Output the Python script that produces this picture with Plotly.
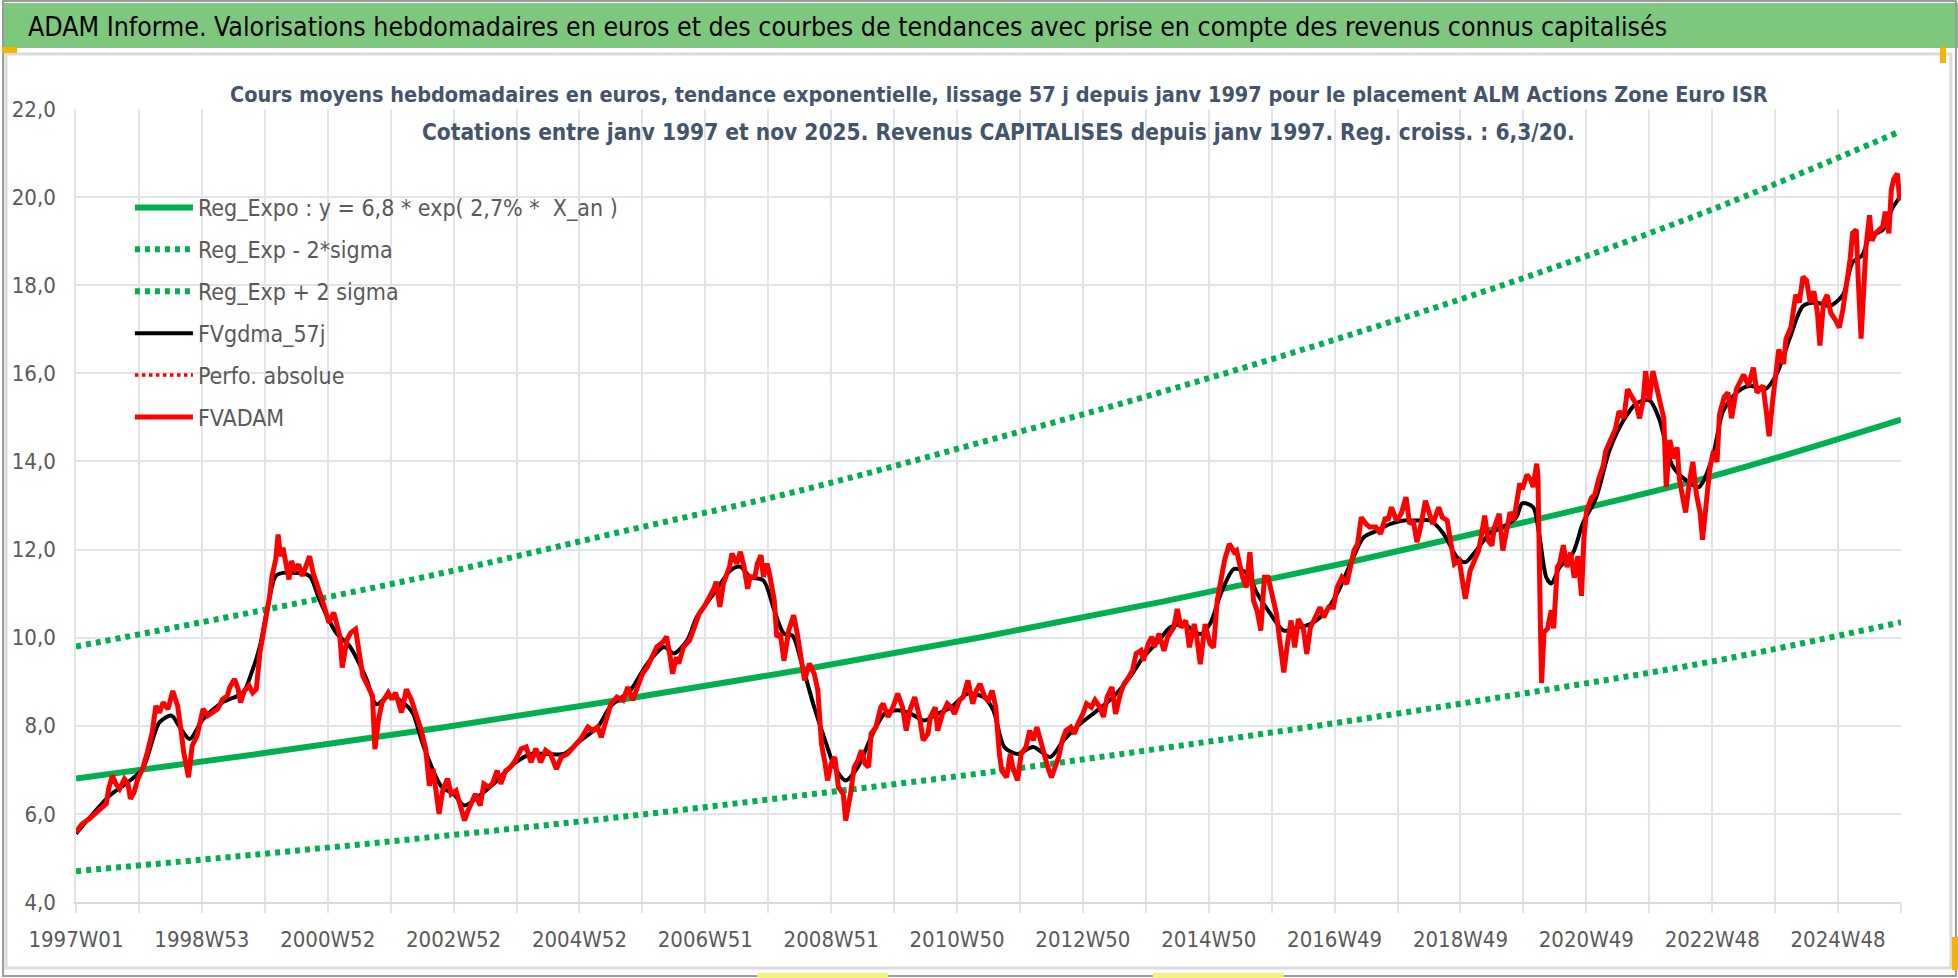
import plotly.graph_objects as go

# ---------------- data ----------------
# x = week index counted from 1997W01 (=0)
tick_weeks = [0, 104, 208, 312, 416, 520, 624, 728, 832, 936, 1040, 1144, 1248, 1352, 1456]
tick_labels = ["1997W01", "1998W53", "2000W52", "2002W52", "2004W52", "2006W51", "2008W51",
               "2010W50", "2012W50", "2014W50", "2016W49", "2018W49", "2020W49", "2022W48", "2024W48"]
y_ticks = [4, 6, 8, 10, 12, 14, 16, 18, 20, 22]
y_tick_labels = ["4,0", "6,0", "8,0", "10,0", "12,0", "14,0", "16,0", "18,0", "20,0", "22,0"]

trend_weeks = [0, 150, 300, 450, 600, 750, 900, 1050, 1200, 1350, 1508]
reg_expo = [6.80, 7.36, 7.95, 8.59, 9.27, 10.02, 10.83, 11.70, 12.64, 13.65, 14.95]
reg_minus = [4.70, 5.08, 5.49, 5.93, 6.42, 6.93, 7.50, 8.10, 8.75, 9.45, 10.35]
reg_plus = [9.80, 10.60, 11.45, 12.40, 13.35, 14.45, 15.60, 16.85, 18.20, 19.70, 21.50]

fvadam_weeks = [
    0, 5, 11, 16, 21, 25, 27, 30, 33, 36, 40, 43, 45, 48, 51, 55, 59, 63, 66, 69, 72, 76, 80, 84, 87, 89,
    93, 96, 100, 105, 109, 113, 117, 121, 125, 127, 131, 134, 136, 139, 143, 146, 149, 152, 156, 160, 162,
    165, 167, 169, 171, 174, 176, 178, 181, 184, 187, 190, 193, 196, 198, 202, 205, 209, 213, 218, 220, 224,
    227, 231, 234, 237, 241, 245, 247, 250, 253, 258, 261, 264, 269, 273, 277, 281, 285, 289, 292, 295, 298,
    300, 303, 307, 310, 314, 318, 321, 324, 327, 330, 334, 337, 341, 344, 348, 351, 355, 359, 363, 368, 372,
    376, 380, 384, 388, 392, 397, 401, 406, 412, 417, 423, 427, 431, 434, 438, 442, 447, 452, 456, 460, 464,
    468, 472, 476, 480, 485, 488, 491, 493, 496, 498, 502, 507, 511, 515, 519, 523, 527, 529, 532, 535, 540,
    542, 546, 549, 552, 555, 557, 561, 563, 566, 568, 571, 573, 577, 579, 582, 585, 589, 593, 596,
    602, 606, 610, 613, 616, 619, 621, 624, 627, 630, 634, 636, 640, 643, 646, 649, 652, 655, 657, 661, 665,
    667, 671, 675, 679, 683, 686, 689, 693, 697, 700, 704, 706, 710, 712, 716, 720, 723, 726, 730, 733, 737,
    741, 744, 747, 751, 754, 757, 760, 763, 765, 769, 772, 774, 778, 781, 785, 788, 791, 794, 797, 800, 803,
    806, 809, 812, 815, 818, 822, 825, 828, 832, 835, 839, 842, 846, 849, 852, 856, 859, 863, 866, 870, 873,
    876, 880, 882, 886, 889, 891, 895, 899, 902, 907, 910, 913, 917, 920, 924, 926, 929, 933, 937, 940, 943,
    946, 949, 953, 957, 959, 964, 967, 970, 973, 976, 979, 982, 985, 989, 992, 995, 998, 1001, 1004, 1007,
    1010, 1014, 1017, 1020, 1024, 1028, 1031, 1035, 1039, 1042, 1046, 1050, 1053, 1056, 1059, 1062, 1066,
    1069, 1074, 1078, 1082, 1084, 1087, 1091, 1095, 1099, 1102, 1105, 1108, 1111, 1115, 1118, 1121, 1126,
    1129, 1133, 1137, 1139, 1143, 1148, 1152, 1155, 1159, 1161, 1164, 1167, 1170, 1172, 1176, 1179, 1182,
    1185, 1188, 1191, 1193, 1195, 1199, 1202, 1204, 1207, 1208, 1210, 1211, 1213, 1216, 1219, 1221, 1224,
    1226, 1229, 1232, 1235, 1238, 1241, 1244, 1246, 1248, 1252, 1255, 1258, 1262, 1264, 1268, 1272, 1275,
    1279, 1282, 1286, 1289, 1292, 1295, 1297, 1300, 1303, 1306, 1309, 1312, 1314, 1317, 1320, 1323, 1325,
    1328, 1330, 1333, 1336, 1339, 1342, 1344, 1347, 1350, 1353, 1356, 1358, 1362, 1365, 1368, 1372, 1375,
    1378, 1382, 1386, 1389, 1394, 1397, 1399, 1402, 1405, 1407, 1411, 1413, 1417, 1421, 1424, 1427, 1430,
    1433, 1436, 1439, 1441, 1444, 1447, 1450, 1454, 1457, 1460, 1462, 1466, 1468, 1471, 1473, 1475, 1477,
    1479, 1482, 1484, 1487, 1490, 1493, 1495, 1498, 1500, 1502, 1505, 1507]
fvadam = [
    5.58, 5.77, 5.89, 6.00, 6.11, 6.23, 6.57, 6.87, 6.68, 6.57, 6.79, 6.68, 6.34, 6.49, 6.79, 7.02, 7.40,
    7.85, 8.45, 8.30, 8.53, 8.38, 8.79, 8.45, 7.85, 7.40, 6.83, 7.55, 7.77, 8.38, 8.23, 8.30, 8.38, 8.60,
    8.68, 8.87, 9.06, 8.83, 8.53, 8.79, 8.91, 8.75, 8.83, 9.66, 10.26, 10.94, 11.40, 11.77, 12.34, 11.85,
    12.04, 11.62, 11.32, 11.74, 11.55, 11.66, 11.40, 11.62, 11.85, 11.47, 11.32, 10.98, 10.72, 10.34, 10.57,
    10.04, 9.32, 9.96, 10.11, 10.19, 9.58, 9.13, 8.91, 8.68, 7.47, 8.15, 8.53, 8.75, 8.60, 8.75, 8.30, 8.83,
    8.60, 8.30, 7.92, 7.47, 6.64, 7.02, 6.50,
    6.00, 6.53, 6.80, 6.45, 6.53, 6.15, 5.85, 6.08, 6.30, 6.45, 6.19, 6.68, 6.61, 6.68, 6.98, 6.68, 6.98,
    7.06, 7.21, 7.48, 7.52, 7.17, 7.48, 7.17, 7.44, 7.36, 7.02, 7.29, 7.36, 7.55, 7.70, 7.97, 7.89, 7.97,
    7.74, 8.12, 8.50, 8.65, 8.58, 8.88, 8.58, 8.88, 9.18, 9.33, 9.56, 9.79, 9.90, 10.02, 9.56, 9.18, 9.56,
    9.41, 9.79, 9.94, 10.24, 10.55, 10.70, 10.89, 11.11, 11.27, 10.70, 11.23, 11.61, 11.91, 11.68, 11.95,
    11.61, 11.11, 11.38, 11.38, 11.68, 11.87, 11.38, 11.68, 11.45, 10.85, 10.02, 10.09, 9.48, 10.17, 10.51,
    10.09,
    9.03, 9.41, 9.18, 8.80, 7.59, 7.14, 6.76, 7.14, 7.29, 6.61, 6.45, 5.85, 6.45, 7.06, 7.21, 7.44, 7.14,
    7.06, 7.82, 7.97, 8.42, 8.50, 8.20, 8.42, 8.73, 8.42, 7.89, 8.35, 8.65, 8.20, 7.67, 7.82, 8.20, 8.42,
    7.89, 8.27, 8.50, 8.42, 8.27, 8.58, 8.65, 9.03, 8.50, 8.80, 8.95, 8.65, 8.58, 8.80, 8.42, 7.36, 6.98,
    6.83, 7.36, 7.06, 6.76, 7.36, 7.52, 7.89, 7.67, 7.97, 7.67, 7.29, 7.06, 6.83, 7.06, 7.29, 7.67, 7.89,
    7.97, 7.82, 8.05, 8.27, 8.50, 8.42, 8.58, 8.42, 8.20, 8.65, 8.88, 8.27, 8.73, 8.95, 9.11, 9.26, 9.64,
    9.71, 9.48, 9.86, 10.02, 9.79, 10.09,
    9.70, 10.01, 10.23, 10.65, 10.23, 10.39, 9.78, 10.31, 10.01, 9.40, 10.31, 9.86, 9.78, 10.84, 11.30,
    11.75, 12.13, 11.94, 11.98, 11.37, 11.14, 11.94, 10.84, 10.61, 10.16, 11.37, 11.37, 10.84, 10.54, 9.86,
    9.21, 9.86, 10.39, 9.78, 10.42, 10.23, 9.63, 10.23, 10.46, 10.69, 10.46, 10.69, 10.69, 11.14, 11.37,
    11.22, 11.60, 11.98, 12.13, 12.73, 12.58, 12.51, 12.51, 12.36, 12.73, 12.66, 12.96, 12.66, 12.81, 13.19,
    12.58, 12.66, 12.17, 12.51, 13.11, 12.81, 12.58, 12.96, 12.73, 12.66, 12.05, 11.67, 11.75, 10.88, 11.52,
    11.75, 11.98, 12.28, 12.77, 12.20, 12.09, 12.51, 12.81, 11.98, 12.43, 12.85, 12.66, 13.11, 13.50,
    13.37, 13.70, 13.58, 13.42, 13.95, 13.66, 10.37, 8.97, 10.12, 10.21, 10.62, 10.21, 11.60, 11.69, 12.10,
    11.60, 11.93, 11.36, 11.85, 10.95, 12.26, 12.84, 13.17, 13.25, 13.58, 13.91, 14.24, 14.49, 14.73, 15.14,
    14.98, 15.64, 15.47, 15.31, 14.98, 15.39, 16.05, 15.39, 16.05, 15.72, 15.31, 14.98, 13.42, 14.49, 14.07,
    14.32, 13.58, 13.09, 12.84, 13.50, 13.99, 13.25, 12.84, 12.22, 13.17, 13.83, 14.24, 13.99, 15.06, 15.47,
    15.56, 14.98, 15.64, 15.80, 15.97, 15.72, 16.13, 15.56, 15.72, 15.06, 14.57, 15.39, 16.13, 16.54, 16.21,
    16.79, 17.04, 17.78, 17.61, 18.19, 18.11, 17.61, 17.86, 17.37, 16.63, 17.61, 17.78, 17.37, 17.20, 17.04,
    17.45, 17.78, 18.60, 19.18, 19.26, 17.94, 16.79, 17.78, 18.85, 19.59, 19.01, 19.18, 19.26, 19.34, 19.67,
    19.18, 20.16, 20.41, 20.53, 19.92]

gdma_weeks = [
    0, 28, 41, 55, 69, 79, 85, 94, 105, 121, 138, 145, 152, 158, 165, 171, 182, 193, 201, 215, 226, 240,
    248, 259, 270, 278, 287, 302, 312, 321, 335, 348, 362, 376, 390, 403, 417, 431, 442, 458, 472, 486, 494,
    505, 513, 527, 541, 549, 557, 568, 577, 585, 592, 599, 610, 619, 627, 636, 646, 657, 668, 679, 690, 701,
    712, 723, 737, 750, 758, 767, 778, 791, 805, 816, 830, 844, 857, 871, 882, 895, 904, 915, 929, 937, 946,
    957, 968, 976, 987, 998, 1009, 1020, 1031, 1042, 1053, 1064, 1075, 1086, 1097, 1108, 1119, 1130, 1141,
    1148, 1157, 1168, 1179, 1190, 1195, 1204, 1209, 1215, 1219, 1226, 1237, 1245, 1256, 1267, 1278, 1289,
    1300, 1308, 1319, 1330, 1341, 1352, 1361, 1372, 1383, 1396, 1405, 1416, 1427, 1438, 1449, 1460, 1468,
    1476, 1482, 1493, 1501, 1507]
gdma = [
    5.55, 6.42, 6.68, 7.02, 8.08, 8.23, 8.00, 7.70, 8.15, 8.53, 8.75, 9.20, 9.81, 10.64, 11.40, 11.47,
    11.47, 11.40, 10.87, 10.11, 9.81, 9.06, 8.49, 8.68, 8.53, 8.30, 7.55, 6.62, 6.45, 6.19, 6.45, 6.76,
    7.14, 7.36, 7.36, 7.36, 7.67, 7.97, 8.45, 8.80, 9.41, 9.79, 9.64, 9.94, 10.47, 11.00, 11.53, 11.61,
    11.38, 11.30, 10.62, 10.09, 10.05, 9.48, 8.42, 7.67, 7.06, 6.76, 7.06, 7.74, 8.27, 8.35, 8.27, 8.12,
    8.27, 8.42, 8.73, 8.65, 8.35, 7.52, 7.36, 7.52, 7.29, 7.67, 8.05, 8.35, 8.65, 9.11, 9.56, 9.94, 10.23,
    10.31, 10.08, 10.31, 11.00, 11.56, 11.45, 11.00, 10.54, 10.16, 10.23, 10.31, 10.54, 11.00, 11.67, 12.28,
    12.43, 12.58, 12.66, 12.66, 12.66, 12.36, 11.83, 11.71, 11.98, 12.36, 12.51, 12.73, 13.05, 12.96, 12.35,
    11.36, 11.23, 11.60, 11.93, 12.59, 13.17, 14.24, 14.90, 15.31, 15.39, 14.98, 13.91, 13.58, 13.42, 14.07,
    15.14, 15.56, 15.72, 15.64, 15.97, 16.79, 17.53, 17.61, 17.53, 17.78, 18.52, 18.68, 19.09, 19.26,
    19.75, 20.00]

legend_names = ["Reg_Expo : y = 6,8 * exp( 2,7% *  X_an )", "Reg_Exp - 2*sigma", "Reg_Exp + 2 sigma",
                "FVgdma_57j", "Perfo. absolue", "FVADAM"]

header_text = ("ADAM Informe. Valorisations hebdomadaires en euros et des courbes de tendances "
               "avec prise en compte des revenus connus capitalisés")
title_line1 = ("Cours moyens hebdomadaires en euros, tendance exponentielle, lissage 57 j depuis janv 1997 "
               "pour le placement ALM Actions Zone Euro ISR")
title_line2 = ("Cotations entre janv 1997 et nov 2025. Revenus CAPITALISES depuis janv 1997. "
               "Reg. croiss. : 6,3/20.")

# ---------------- layout geometry (pixels) ----------------
W, H = 1958, 978
PL, PR, PT, PB = 74, 1901, 109, 902
FONT = "Liberation Sans Narrow, Arial Narrow, DejaVu Sans Condensed, sans-serif"
GREEN = "#00B050"
GRID = "#E1E5EA"


def px(xp):
    return (xp - PL) / (PR - PL)


def py(yp):
    return (PB - yp) / (PB - PT)


fig = go.Figure()
fig.add_trace(go.Scatter(x=trend_weeks, y=reg_expo, mode="lines", name=legend_names[0],
                         line=dict(color=GREEN, width=6, shape="spline"), legendgroup="a"))
fig.add_trace(go.Scatter(x=trend_weeks, y=reg_minus, mode="lines", name=legend_names[1],
                         line=dict(color=GREEN, width=6, shape="spline", dash="5px,5px"), legendgroup="b"))
fig.add_trace(go.Scatter(x=trend_weeks, y=reg_plus, mode="lines", name=legend_names[2],
                         line=dict(color=GREEN, width=6, shape="spline", dash="5px,5px"), legendgroup="c"))
fig.add_trace(go.Scatter(x=gdma_weeks, y=gdma, mode="lines", name=legend_names[3],
                         line=dict(color="#000000", width=4, shape="spline", smoothing=0.8), legendgroup="d"))
fig.add_trace(go.Scatter(x=[None], y=[None], mode="lines", name=legend_names[4],
                         line=dict(color="#FF0000", width=3.5, dash="3.5px,3.5px"), legendgroup="e"))
fig.add_trace(go.Scatter(x=fvadam_weeks, y=fvadam, mode="lines", name=legend_names[5],
                         line=dict(color="#FF0000", width=5), legendgroup="f"))

shapes = [
    # outer frame
    dict(type="rect", xref="paper", yref="paper", x0=px(1), x1=px(W - 2), y0=py(1), y1=py(H - 2),
         line=dict(color="#9A9A9A", width=2), fillcolor="rgba(0,0,0,0)", layer="above"),
    # header band
    dict(type="rect", xref="paper", yref="paper", x0=px(0), x1=px(W), y0=py(3), y1=py(48),
         line=dict(width=0), fillcolor="#7DC87D", layer="below"),
    # light rule under header + inner chart frame
    dict(type="rect", xref="paper", yref="paper", x0=px(4), x1=px(1951), y0=py(54), y1=py(968),
         line=dict(color="#DCDCDC", width=3), fillcolor="rgba(0,0,0,0)", layer="below"),
    # small orange / yellow accents
    dict(type="rect", xref="paper", yref="paper", x0=px(0), x1=px(15), y0=py(47), y1=py(53),
         line=dict(width=0), fillcolor="#F5B400", layer="above"),
    dict(type="rect", xref="paper", yref="paper", x0=px(1940), x1=px(1946), y0=py(47), y1=py(63),
         line=dict(width=0), fillcolor="#F5B400", layer="above"),
    dict(type="rect", xref="paper", yref="paper", x0=px(1952), x1=px(1958), y0=py(937), y1=py(970),
         line=dict(width=0), fillcolor="#F5B400", layer="above"),
    dict(type="rect", xref="paper", yref="paper", x0=px(756), x1=px(887), y0=py(973), y1=py(978),
         line=dict(width=0), fillcolor="#F4F47C", layer="above"),
    dict(type="rect", xref="paper", yref="paper", x0=px(1152), x1=px(1283), y0=py(973), y1=py(978),
         line=dict(width=0), fillcolor="#F4F47C", layer="above"),
    # white title box masking gridlines
    dict(type="rect", xref="paper", yref="paper", x0=px(237), x1=px(1760), y0=py(70), y1=py(150),
         line=dict(width=0), fillcolor="#FFFFFF", layer="between"),
]

annotations = [
    dict(text=header_text, xref="paper", yref="paper", x=px(24), y=py(27), xanchor="left",
         yanchor="middle", showarrow=False, font=dict(family=FONT, size=26.5, color="#000000")),
    dict(text="<b>" + title_line1 + "</b>", xref="paper", yref="paper", x=px(998), y=py(95),
         xanchor="center", yanchor="middle", showarrow=False,
         font=dict(family=FONT, size=21.5, color="#44546A")),
    dict(text="<b>" + title_line2 + "</b>", xref="paper", yref="paper", x=px(998), y=py(132),
         xanchor="center", yanchor="middle", showarrow=False,
         font=dict(family=FONT, size=22.5, color="#44546A")),
]

fig.update_layout(
    width=W, height=H,
    margin=dict(l=PL, r=W - PR, t=PT, b=H - PB, pad=0),
    paper_bgcolor="#FFFFFF", plot_bgcolor="#FFFFFF",
    showlegend=True,
    legend=dict(x=px(128), y=py(186), xanchor="left", yanchor="top", bgcolor="rgba(0,0,0,0)",
                font=dict(family=FONT, size=23, color="#595959"), itemwidth=58,
                tracegroupgap=9, traceorder="grouped"),
    shapes=shapes, annotations=annotations,
    xaxis=dict(range=[0, 1508], tickmode="array", tickvals=tick_weeks, ticktext=tick_labels,
               showgrid=True, gridcolor=GRID, gridwidth=1.5, zeroline=False,
               showline=True, linecolor="#D6DAE0", linewidth=2,
               ticks="outside", ticklen=9, tickcolor=GRID, tickwidth=1.5,
               ticklabelstandoff=8,
               tickfont=dict(family=FONT, size=22, color="#595959"),
               minor=dict(tickmode="linear", tick0=0, dtick=52, showgrid=True, gridcolor=GRID,
                          gridwidth=1.5, ticks="outside", ticklen=9, tickcolor=GRID, tickwidth=1.5)),
    yaxis=dict(range=[4, 22], tickmode="array", tickvals=y_ticks, ticktext=y_tick_labels,
               showgrid=True, gridcolor=GRID, gridwidth=1.5, zeroline=False,
               showline=True, linecolor=GRID, linewidth=1.5, ticks="",
               ticklabelstandoff=14,
               tickfont=dict(family=FONT, size=22, color="#595959")),
)

fig.write_html("out.html", config={"displayModeBar": False},
               post_script="document.body.style.margin='0';document.body.style.overflow='hidden';")
